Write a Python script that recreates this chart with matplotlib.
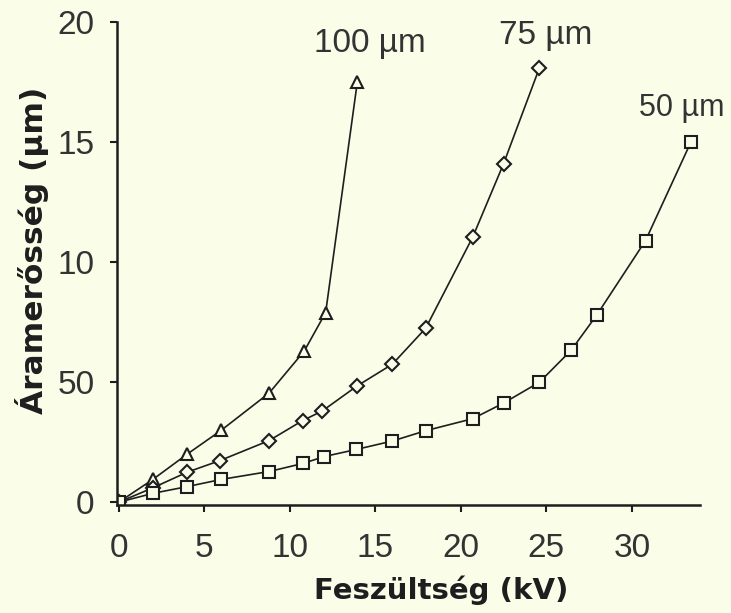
import matplotlib.pyplot as plt

# Feszültség (kV) / Áramerősség values
x_100 = [0, 2, 4, 6, 8.8, 10.85, 12.1, 13.95]
y_100 = [0, 0.95, 2.0, 3.0, 4.55, 6.3, 7.9, 17.5]

x_75 = [0, 2, 4, 5.9, 8.8, 10.75, 11.9, 13.95, 16.0, 17.95, 20.7, 22.5, 24.6]
y_75 = [0, 0.6, 1.25, 1.73, 2.57, 3.4, 3.8, 4.85, 5.75, 7.25, 11.05, 14.1, 18.1]

x_50 = [0, 2, 4, 6, 8.8, 10.8, 12.0, 13.9, 16.0, 17.95, 20.7, 22.5, 24.6,
        26.45, 27.95, 30.8, 33.45]
y_50 = [0, 0.37, 0.65, 0.95, 1.28, 1.62, 1.9, 2.2, 2.55, 2.98, 3.48, 4.13, 5.0,
        6.33, 7.8, 10.9, 15.0]

yticks = [0, 5, 10, 15, 20]
ytick_labels = ['0', '50', '10', '15', '20']
xticks = [0, 5, 10, 15, 20, 25, 30]

bg = '#fafde8'
ink = '#1e1e1e'

fig = plt.figure(figsize=(7.31, 6.13), dpi=100, facecolor=bg)
ax = fig.add_axes([0.160, 0.176, 0.798, 0.788], facecolor=bg)

style = dict(color=ink, lw=1.2, mfc=bg, mec=ink, mew=1.5)
ax.plot(x_100, y_100, marker='^', ms=9, **style)
ax.plot(x_75, y_75, marker='D', ms=7.5, **style)
ax.plot(x_50, y_50, marker='s', ms=9, **style)

ax.set_xlim(-0.1, 34.0)
ax.set_ylim(-0.12, 20)
ax.set_xticks(xticks)
ax.set_yticks(yticks)
ax.set_yticklabels(ytick_labels)

for side in ['top', 'right']:
    ax.spines[side].set_visible(False)
for side in ['left', 'bottom']:
    ax.spines[side].set_color(ink)
    ax.spines[side].set_linewidth(1.8)

ax.tick_params(direction='out', length=5, width=1.5, colors=ink,
               labelsize=24, labelcolor='#333333')
ax.tick_params(axis='x', pad=15)
ax.tick_params(axis='y', pad=11)
for lab in ax.get_xticklabels() + ax.get_yticklabels():
    lab.set_family('Liberation Sans')

ax.set_xlabel('Feszültség (kV)', fontsize=21, fontweight='bold',
              family='DejaVu Sans', color=ink)
ax.xaxis.label.set_va('center')
ax.xaxis.set_label_coords(0.556, -0.176)
ax.set_ylabel('Áramerősség (µm)', fontsize=22.5, fontweight='bold',
              family='DejaVu Sans', color=ink)
ax.yaxis.label.set_va('center')
ax.yaxis.set_label_coords(-0.146, 0.528)

lbl = dict(family='Liberation Sans', color='#333333', clip_on=False)
ax.text(14.7, 18.75, '100 µm', ha='center', va='baseline', fontsize=24, **lbl)
ax.text(24.97, 19.1, '75 µm', ha='center', va='baseline', fontsize=24, **lbl)
ax.text(30.4, 16.1, '50 µm', ha='left', va='baseline', fontsize=22, **lbl)

plt.savefig('out.png', dpi=100, facecolor=bg)
